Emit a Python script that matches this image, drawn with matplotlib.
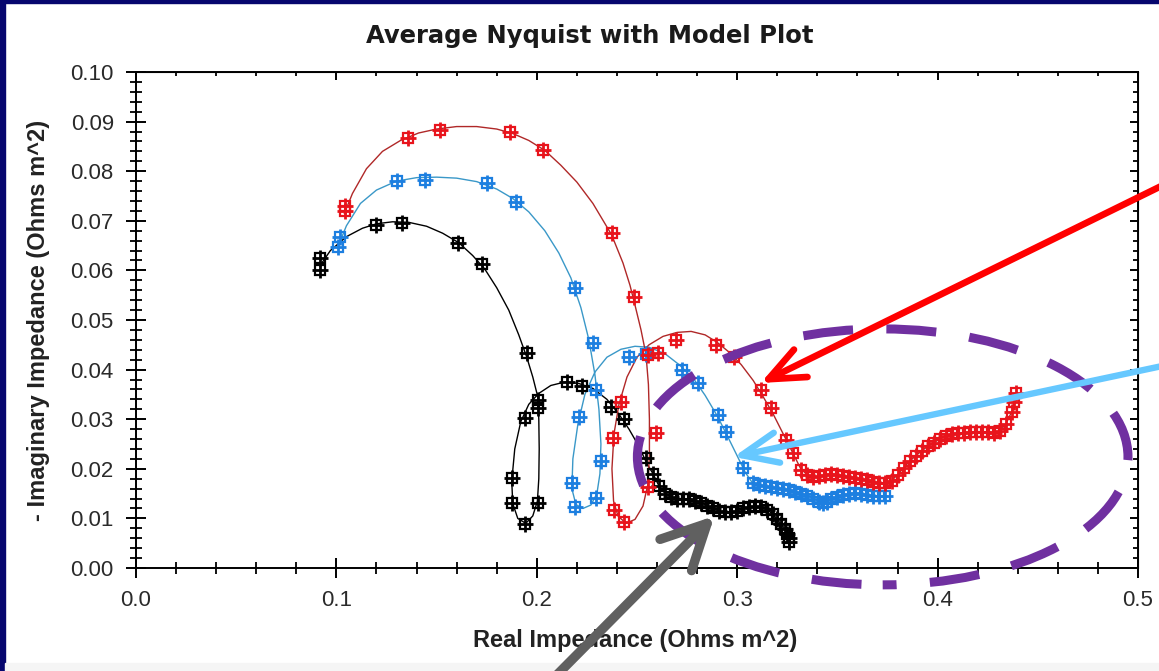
import numpy as np
import matplotlib
matplotlib.use("Agg")
import matplotlib.pyplot as plt
from matplotlib.ticker import MultipleLocator, FormatStrFormatter
from matplotlib.patches import Ellipse, Rectangle

# measured points, ordered by frequency
black_x = [0.0919, 0.0919, 0.1199, 0.1329, 0.1608, 0.1728, 0.1953, 0.2008, 0.2008,
           0.2008, 0.1943, 0.1878, 0.1878, 0.1943, 0.2153, 0.2228, 0.2368, 0.2433,
           0.2543, 0.258, 0.261, 0.264, 0.267, 0.270, 0.273, 0.276, 0.279, 0.282,
           0.285, 0.288, 0.291, 0.294, 0.297, 0.300, 0.303, 0.306, 0.309, 0.312,
           0.315, 0.318, 0.320, 0.322, 0.324, 0.325, 0.326, 0.326]
black_y = [0.0601, 0.0625, 0.0692, 0.0696, 0.0655, 0.0613, 0.0433, 0.0339, 0.0323,
           0.0131, 0.0089, 0.0131, 0.0181, 0.0302, 0.0374, 0.0366, 0.0325, 0.0300,
           0.0222, 0.0190, 0.0165, 0.0150, 0.0143, 0.0140, 0.0140, 0.0139, 0.0136,
           0.0132, 0.0126, 0.0120, 0.0115, 0.0112, 0.0112, 0.0115, 0.0120, 0.0123,
           0.0124, 0.0122, 0.0117, 0.0108, 0.0098, 0.0088, 0.0078, 0.0068, 0.0060,
           0.0052]

blue_x = [0.1009, 0.1019, 0.1304, 0.1444, 0.1753, 0.1898, 0.2193, 0.2278, 0.2293,
          0.2318, 0.2293, 0.2193, 0.2178, 0.2213, 0.2460, 0.2543, 0.2727, 0.2802,
          0.2902, 0.2942, 0.3027, 0.3077, 0.311, 0.314, 0.317, 0.320, 0.323, 0.326,
          0.329, 0.332, 0.335, 0.338, 0.341, 0.343, 0.345, 0.347, 0.350, 0.353,
          0.356, 0.359, 0.362, 0.365, 0.368, 0.371, 0.374]
blue_y = [0.0647, 0.0667, 0.0780, 0.0782, 0.0776, 0.0738, 0.0565, 0.0454, 0.0359,
          0.0216, 0.0141, 0.0123, 0.0171, 0.0304, 0.0425, 0.0432, 0.0399, 0.0373,
          0.0308, 0.0274, 0.0202, 0.0171, 0.0167, 0.0165, 0.0163, 0.0162, 0.0160,
          0.0157, 0.0154, 0.0150, 0.0146, 0.0140, 0.0134, 0.0131, 0.0134, 0.0139,
          0.0144, 0.0148, 0.0150, 0.0151, 0.0150, 0.0148, 0.0146, 0.0145, 0.0145]

red_x = [0.1044, 0.1044, 0.1359, 0.1518, 0.1868, 0.2033, 0.2373, 0.2483, 0.2553,
         0.2593, 0.2553, 0.2433, 0.2383, 0.2378, 0.2418, 0.2603, 0.2693, 0.2892,
         0.2982, 0.3117, 0.3167, 0.3242, 0.3277, 0.3317, 0.335, 0.338, 0.341,
         0.344, 0.347, 0.350, 0.353, 0.356, 0.359, 0.362, 0.365, 0.368, 0.371,
         0.374, 0.377, 0.380, 0.383, 0.386, 0.389, 0.392, 0.395, 0.398, 0.401,
         0.404, 0.407, 0.410, 0.413, 0.416, 0.419, 0.422, 0.425, 0.428, 0.431,
         0.434, 0.437, 0.438, 0.439]
red_y = [0.0720, 0.0730, 0.0867, 0.0883, 0.0879, 0.0843, 0.0675, 0.0546, 0.0430,
         0.0272, 0.0163, 0.0093, 0.0117, 0.0262, 0.0335, 0.0434, 0.0460, 0.0450,
         0.0425, 0.0359, 0.0323, 0.0258, 0.0232, 0.0198, 0.0188, 0.0183, 0.0185,
         0.0188, 0.0190, 0.0188, 0.0186, 0.0184, 0.0182, 0.0179, 0.0177, 0.0174,
         0.0172, 0.0172, 0.0176, 0.0188, 0.0202, 0.0215, 0.0226, 0.0236, 0.0245,
         0.0252, 0.0260, 0.0266, 0.0270, 0.0272, 0.0273, 0.0274, 0.0275, 0.0275,
         0.0274, 0.0273, 0.0276, 0.0290, 0.0315, 0.0335, 0.0352]

# model (fit) curves through the arcs and loops; the tails follow the data
black_fit_x = [0.0919, 0.097, 0.105, 0.113, 0.120, 0.128, 0.136, 0.145, 0.153, 0.161,
               0.168, 0.174, 0.180, 0.186, 0.191, 0.195, 0.198, 0.2005, 0.2010, 0.2012,
               0.2010, 0.2003, 0.198, 0.1945, 0.1905, 0.1880, 0.1875, 0.1890, 0.1920,
               0.1960, 0.2010, 0.2070, 0.2140, 0.2210, 0.2280, 0.2350, 0.2410, 0.2460,
               0.2510, 0.2550, 0.2580]
black_fit_y = [0.0610, 0.0640, 0.0668, 0.0685, 0.0694, 0.0698, 0.0697, 0.0689, 0.0675,
               0.0656, 0.0630, 0.0603, 0.0565, 0.0520, 0.0470, 0.0425, 0.0385, 0.0345,
               0.0300, 0.0240, 0.0180, 0.0135, 0.0105, 0.0090, 0.0100, 0.0130, 0.0175,
               0.0240, 0.0295, 0.0330, 0.0352, 0.0368, 0.0375, 0.0372, 0.0362, 0.0340,
               0.0310, 0.0280, 0.0245, 0.0210, 0.0190]
black_tail = 20

blue_fit_x = [0.1005, 0.105, 0.112, 0.120, 0.130, 0.140, 0.150, 0.160, 0.170, 0.180,
              0.188, 0.196, 0.204, 0.211, 0.217, 0.222, 0.226, 0.229, 0.231, 0.232,
              0.2315, 0.230, 0.227, 0.223, 0.2195, 0.2175, 0.218, 0.2205, 0.224, 0.229,
              0.235, 0.242, 0.2490, 0.2560, 0.2640, 0.2710, 0.2780, 0.2840, 0.2900,
              0.2950, 0.3000, 0.3040, 0.3077]
blue_fit_y = [0.0645, 0.0690, 0.0735, 0.0762, 0.0780, 0.0787, 0.0788, 0.0786, 0.0779,
              0.0764, 0.0745, 0.0718, 0.0680, 0.0635, 0.0585, 0.0525, 0.0460, 0.0390,
              0.0320, 0.0250, 0.0190, 0.0150, 0.0127, 0.0120, 0.0128, 0.0160, 0.0220,
              0.0290, 0.0350, 0.0395, 0.0425, 0.0441, 0.0447, 0.0445, 0.0432, 0.0410,
              0.0383, 0.0348, 0.0307, 0.0267, 0.0226, 0.0193, 0.0171]
blue_tail = 22

red_fit_x = [0.1040, 0.108, 0.115, 0.123, 0.132, 0.141, 0.150, 0.160, 0.170, 0.180,
             0.188, 0.196, 0.204, 0.212, 0.220, 0.228, 0.2373, 0.243, 0.2465, 0.2490,
             0.2520, 0.2545, 0.2557, 0.2562, 0.2562, 0.2555, 0.2530, 0.2490, 0.2445,
             0.2405, 0.2383, 0.2375, 0.2385, 0.2410, 0.2450, 0.2500, 0.2560, 0.2630,
             0.2700, 0.2770, 0.2840, 0.2900, 0.2960, 0.3020, 0.3080, 0.3130, 0.3180,
             0.3230, 0.3280, 0.3317, 0.335]
red_fit_y = [0.0715, 0.0755, 0.0805, 0.0840, 0.0862, 0.0877, 0.0885, 0.0890, 0.0890,
             0.0885, 0.0876, 0.0862, 0.0842, 0.0812, 0.0778, 0.0735, 0.0672, 0.0615,
             0.0570, 0.0530, 0.0480, 0.0430, 0.0370, 0.0300, 0.0230, 0.0170, 0.0125,
             0.0098, 0.0090, 0.0105, 0.0135, 0.0200, 0.0270, 0.0330, 0.0385, 0.0425,
             0.0450, 0.0467, 0.0475, 0.0477, 0.0470, 0.0455, 0.0435, 0.0410, 0.0378,
             0.0345, 0.0310, 0.0270, 0.0230, 0.0200, 0.0188]
red_tail = 25

x_major = [0.0, 0.1, 0.2, 0.3, 0.4, 0.5]
y_major = [0.00, 0.01, 0.02, 0.03, 0.04, 0.05, 0.06, 0.07, 0.08, 0.09, 0.10]

# dash lengths below are given in points, not in line widths
plt.rcParams["lines.scale_dashes"] = False

W, H = 1159, 671
fig = plt.figure(figsize=(W / 100, H / 100), dpi=100, facecolor="white")
ax = fig.add_axes([136 / W, 1 - 568 / H, 1002 / W, 496 / H])
ax.set_facecolor("white")

# slide frame
fig.patches.append(Rectangle((0, 0), 5 / W, 1, transform=fig.transFigure,
                             color="#06066e", zorder=-1))
fig.patches.append(Rectangle((0, 1 - 3 / H), 1, 3 / H, transform=fig.transFigure,
                             color="#06066e", zorder=-1))
fig.patches.append(Rectangle((5 / W, 0), 1, 8 / H, transform=fig.transFigure,
                             color="#f5f5f5", zorder=-1))


def draw_series(x, y, fx, fy, tail, mcolor, lcolor):
    line_x = list(fx) + list(x[tail:])
    line_y = list(fy) + list(y[tail:])
    ax.plot(line_x, line_y, color=lcolor, lw=1.0, zorder=3)
    ax.plot(x, y, ls="none", marker="s", ms=6.5, mfc="none", mec=mcolor, mew=1.6, zorder=4)
    ax.plot(x, y, ls="none", marker="+", ms=11, mec=mcolor, mew=2.0, zorder=4)


draw_series(black_x, black_y, black_fit_x, black_fit_y, black_tail, "black", "black")
draw_series(blue_x, blue_y, blue_fit_x, blue_fit_y, blue_tail, "#1d7fe0", "#3a98c8")
draw_series(red_x, red_y, red_fit_x, red_fit_y, red_tail, "#e8141c", "#b02828")

ax.set_xlim(0, 0.5)
ax.set_ylim(0, 0.10)
ax.set_xticks(x_major)
ax.set_yticks(y_major)
ax.xaxis.set_minor_locator(MultipleLocator(0.02))
ax.yaxis.set_minor_locator(MultipleLocator(0.002))
ax.xaxis.set_major_formatter(FormatStrFormatter("%.1f"))
ax.yaxis.set_major_formatter(FormatStrFormatter("%.2f"))
for s in ax.spines.values():
    s.set_linewidth(1.4)

ax.tick_params(which="major", direction="inout", length=14, width=1.4, pad=9,
               labelsize=16, labelcolor="#2a2a2a")
ax.tick_params(which="minor", direction="inout", length=8.5, width=1.3)
for lab in ax.get_xticklabels() + ax.get_yticklabels():
    lab.set_family("Liberation Sans")

top = ax.secondary_xaxis("top")
top.set_xticks(x_major)
top.xaxis.set_minor_locator(MultipleLocator(0.02))
top.tick_params(which="major", direction="in", length=6, width=1.4, labeltop=False)
top.tick_params(which="minor", direction="in", length=3, width=1.3)
right = ax.secondary_yaxis("right")
right.set_yticks(y_major)
right.yaxis.set_minor_locator(MultipleLocator(0.002))
right.tick_params(which="major", direction="in", length=6, width=1.4, labelright=False)
right.tick_params(which="minor", direction="in", length=3.5, width=1.3)

ax.set_xlabel("Real Impedance (Ohms m^2)", family="Liberation Sans", weight="bold",
              size=17, color="#222222", va="center")
ax.set_ylabel("- Imaginary Impedance (Ohms m^2)", family="Liberation Sans",
              weight="bold", size=17, color="#222222", va="center")
ax.xaxis.set_label_coords(0.498, -(640 - 568) / 496)
ax.yaxis.set_label_coords(-(136 - 39) / 1002, 0.5)

fig.text(590 / W, 1 - 36 / H, "Average Nyquist with Model Plot", ha="center",
         va="center", family="DejaVu Sans", weight="bold", size=17.5, color="#1a1a1a")

# callouts over the tail region
ring = Ellipse((0.3726, 0.0224), 0.2448, 0.0516, fill=False, edgecolor="#7030a0",
               lw=6.5, linestyle=(26, (36, 24)), capstyle="butt", clip_on=False,
               zorder=6)
ax.add_patch(ring)

arrows = [
    ((0.3117, 0.0373), (1200, 504), "#ff0000", 4.8, "->,head_length=1.3,head_width=0.55"),
    ((0.2982, 0.0224), (1200, 313), "#66c8ff", 4.6, "->,head_length=1.3,head_width=0.55"),
    ((0.2887, 0.0105), (532, -29), "#606060", 6.8, "->,head_length=1.6,head_width=0.8"),
]
for tip, tail, col, lw, style in arrows:
    ax.annotate("", xy=tip, xycoords="data", xytext=tail, textcoords="figure pixels",
                arrowprops=dict(arrowstyle=style, color=col, lw=lw, shrinkA=0, shrinkB=0,
                                mutation_scale=20, capstyle="round"),
                annotation_clip=False, zorder=7)

fig.savefig("out.png", dpi=100, facecolor="white")
